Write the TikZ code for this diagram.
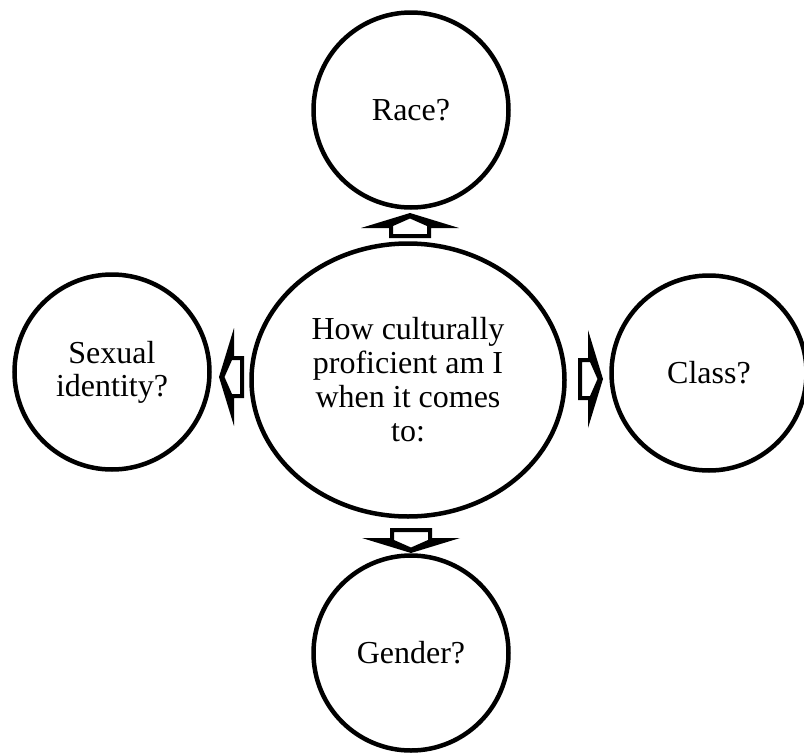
\documentclass[tikz,border=0pt]{standalone}
\usepackage{fontspec}
\setmainfont{Liberation Serif}
\usetikzlibrary{shapes.geometric}
\tikzset{
  bubble/.style={circle, draw, line width=4.5pt, minimum size=195pt, inner sep=0pt,
    align=center, font=\fontsize{32}{33}\selectfont},
  hub/.style={ellipse, draw, line width=4.5pt, minimum width=313pt, minimum height=273pt,
    inner sep=0pt, align=center, font=\fontsize{32}{34}\selectfont},
  barrow/.pic={
    \fill[even odd rule]
      (0,-21) -- (10,-21) -- (10,-49) -- (25,0) -- (10,49) -- (10,21) -- (0,21) -- cycle
      (4,-17) -- (12,-17) -- (19.5,0) -- (12,17) -- (4,17) -- cycle;
  }
}
\begin{document}
\begin{tikzpicture}[x=1pt, y=-1pt]
\useasboundingbox (0,0) rectangle (804,755);
\node[hub] (hub) at (408,380) {How culturally\\proficient am I\\when it comes\\to:};
\node[bubble] (race) at (411,110) {Race?};
\node[bubble] (gender) at (411,653) {Gender?};
\node[bubble] (sexual) at (112,372) {Sexual\\identity?};
\node[bubble] (class) at (709,373) {Class?};
\pic[rotate=90] at (410,238) {barrow};
\pic[rotate=-90] at (411,528) {barrow};
\pic[rotate=180] at (244,377) {barrow};
\pic at (578,379) {barrow};
\end{tikzpicture}
\end{document}
